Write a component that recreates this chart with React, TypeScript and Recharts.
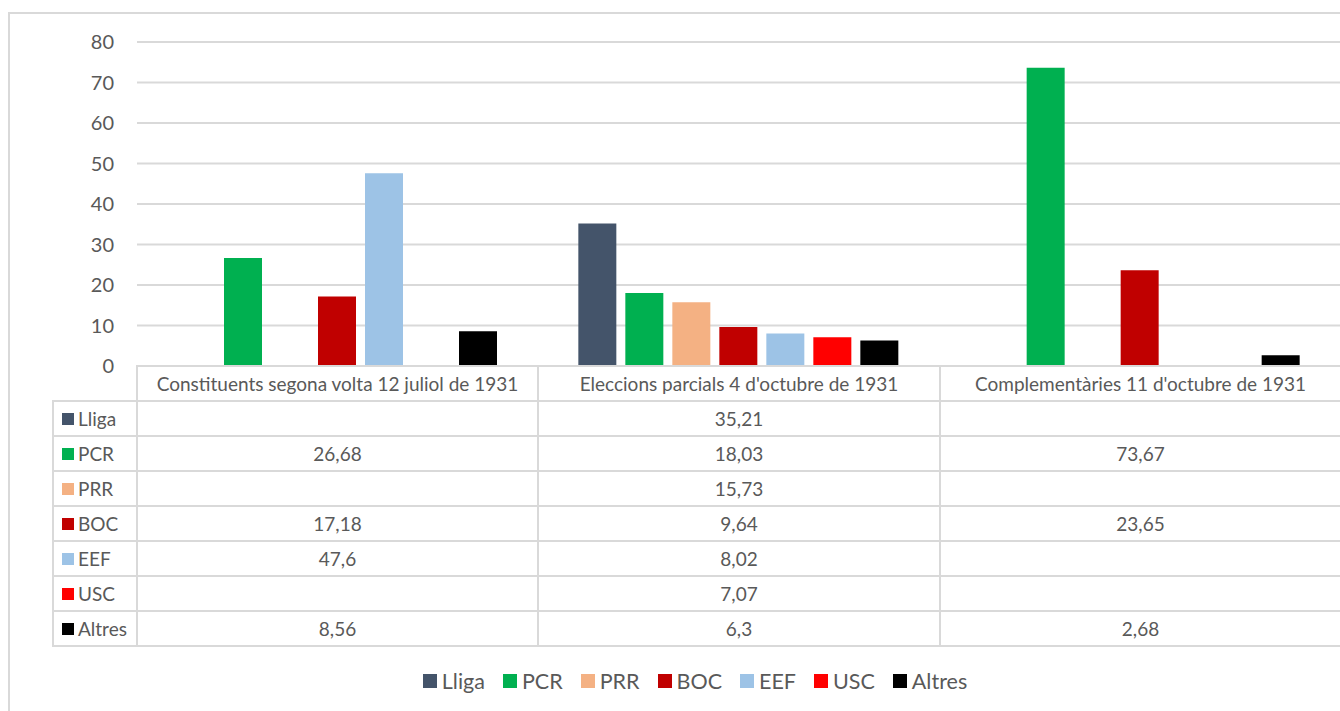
import { Bar, BarChart, CartesianGrid, XAxis, YAxis } from 'recharts'

const categories = [
  'Constituents segona volta 12 juliol de 1931',
  "Eleccions parcials 4 d'octubre de 1931",
  "Complementàries 11 d'octubre de 1931",
]
const parties = ['Lliga', 'PCR', 'PRR', 'BOC', 'EEF', 'USC', 'Altres']
const lliga = [null, 35.21, null]
const pcr = [26.68, 18.03, 73.67]
const prr = [null, 15.73, null]
const boc = [17.18, 9.64, 23.65]
const eef = [47.6, 8.02, null]
const usc = [null, 7.07, null]
const altres = [8.56, 6.3, 2.68]
const yTicks = [0, 10, 20, 30, 40, 50, 60, 70, 80]

const COLORS = ['#44546a', '#00b050', '#f4b183', '#c00000', '#9dc3e6', '#ff0000', '#000000']
const seriesValues = [lliga, pcr, prr, boc, eef, usc, altres]

const data = categories.map((c, i) => {
  const row: any = { name: c }
  parties.forEach((p, j) => {
    row[p] = seriesValues[j][i]
  })
  return row
})

const FONT = 'Lato, "Open Sans", sans-serif'
const TEXT = '#595959'
const LINE = '#d9d9d9'

// table geometry
const colX = [53, 137, 538, 940, 1341]
const headTop = 366
const rowH = 35
const TABLE_FS = 19

const fmt = (v: number | null) => (v == null ? '' : String(v).replace('.', ','))

function DataTable() {
  const cells: any[] = []
  categories.forEach((c, i) => {
    cells.push(
      <div
        key={'h' + i}
        style={{
          position: 'absolute',
          left: colX[i + 1],
          top: headTop,
          width: colX[i + 2] - colX[i + 1],
          height: rowH,
          lineHeight: rowH + 'px',
          textAlign: 'center',
          fontSize: TABLE_FS,
          whiteSpace: 'nowrap',
        }}
      >
        {c}
      </div>
    )
  })
  parties.forEach((p, r) => {
    const top = headTop + rowH * (r + 1)
    cells.push(
      <div
        key={'l' + r}
        style={{
          position: 'absolute',
          left: colX[0] + 9,
          top,
          height: rowH,
          fontSize: TABLE_FS,
          display: 'flex',
          alignItems: 'center',
        }}
      >
        <span style={{ width: 12, height: 12, background: COLORS[r], marginRight: 4, display: 'inline-block' }} />
        {p}
      </div>
    )
    seriesValues[r].forEach((v, i) => {
      cells.push(
        <div
          key={'c' + r + '-' + i}
          style={{
            position: 'absolute',
            left: colX[i + 1],
            top,
            width: colX[i + 2] - colX[i + 1],
            height: rowH,
            lineHeight: rowH + 'px',
            textAlign: 'center',
            fontSize: TABLE_FS,
          }}
        >
          {fmt(v)}
        </div>
      )
    })
  })
  const lines: any[] = []
  lines.push(<div key="ht" style={{ position: 'absolute', left: colX[1], top: headTop - 1, width: colX[4] - colX[1], height: 2, background: LINE }} />)
  for (let r = 0; r <= parties.length; r++) {
    const y = headTop + rowH * (r + 1)
    lines.push(<div key={'h' + r} style={{ position: 'absolute', left: colX[0], top: y - 1, width: colX[4] - colX[0], height: 2, background: LINE }} />)
  }
  lines.push(<div key="v0" style={{ position: 'absolute', left: colX[0] - 1, top: headTop + rowH - 1, width: 2, height: rowH * parties.length + 2, background: LINE }} />)
  for (let i = 1; i < 4; i++) {
    lines.push(<div key={'v' + i} style={{ position: 'absolute', left: colX[i] - 1, top: headTop - 1, width: 2, height: rowH * (parties.length + 1) + 2, background: LINE }} />)
  }
  return (
    <>
      {lines}
      {cells}
    </>
  )
}

export default function App() {
  return (
    <div style={{ position: 'absolute', left: 0, top: 0, width: 1340, height: 711, overflow: 'hidden', fontFamily: FONT, color: TEXT, background: '#fff' }}>
      <div style={{ position: 'absolute', left: 8, top: 12, width: 1400, height: 800, border: '2px solid ' + LINE }} />
      <div style={{ position: 'absolute', left: 0, top: 0 }}>
        <BarChart
          width={1341}
          height={390}
          data={data}
          margin={{ top: 42, right: 0, left: 0, bottom: 24 }}
          barCategoryGap={40}
          barGap={9}
        >
          <CartesianGrid vertical={false} stroke={LINE} strokeWidth={2} />
          <XAxis dataKey="name" hide height={0} />
          <YAxis
            width={137}
            domain={[0, 80]}
            ticks={yTicks}
            interval={0}
            tickLine={false}
            axisLine={false}
            tickSize={0}
            tickMargin={23}
            tick={{ fill: TEXT, fontSize: 20, fontFamily: FONT }}
          />
          {parties.map((p, i) => (
            <Bar key={p} dataKey={p} fill={COLORS[i]} isAnimationActive={false} />
          ))}
        </BarChart>
      </div>
      <DataTable />
      <div
        style={{
          position: 'absolute',
          left: 0,
          width: 1340,
          top: 667,
          height: 28,
          display: 'flex',
          justifyContent: 'center',
          alignItems: 'center',
          fontSize: 21.5,
          paddingLeft: 68,
          boxSizing: 'border-box',
        }}
      >
        {parties.map((p, i) => (
          <span key={p} style={{ display: 'inline-flex', alignItems: 'center', marginRight: 18 }}>
            <span style={{ width: 14, height: 14, background: COLORS[i], marginRight: 5, display: 'inline-block' }} />
            {p}
          </span>
        ))}
      </div>
    </div>
  )
}
